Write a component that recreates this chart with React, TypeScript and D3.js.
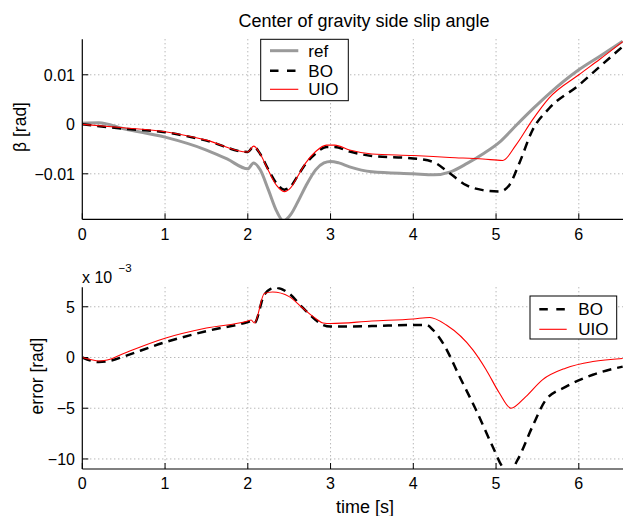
import React from "react";
import * as d3 from "d3";

// ---- Data: top plot (side slip angle, rad) ----
const tRef = [0, 0.2, 0.5, 1, 1.5, 1.75, 2.0, 2.07, 2.15, 2.25, 2.35, 2.43, 2.52, 2.6, 2.7, 2.82, 2.92, 3.0, 3.1, 3.23, 3.5, 4.0, 4.25, 4.45, 4.65, 4.85, 5.05, 5.25, 5.45, 5.65, 6.0, 6.25, 6.53];
const betaRef = [0.0002, 0.0003, -0.0009, -0.0026, -0.0052, -0.007, -0.009, -0.0078, -0.0092, -0.0133, -0.0176, -0.0195, -0.0182, -0.0158, -0.0125, -0.0092, -0.0078, -0.0075, -0.0078, -0.0086, -0.0096, -0.01, -0.0102, -0.0096, -0.0079, -0.0059, -0.0035, -0.0001, 0.0032, 0.0063, 0.011, 0.0137, 0.0168];

const tBO = [0, 0.5, 1, 1.5, 2.0, 2.07, 2.15, 2.25, 2.35, 2.44, 2.52, 2.6, 2.7, 2.82, 2.95, 3.05, 3.23, 3.5, 4.0, 4.24, 4.44, 4.64, 4.84, 5.04, 5.16, 5.28, 5.44, 5.64, 6.0, 6.25, 6.53];
const betaBO = [0, -0.0009, -0.0016, -0.0033, -0.0056, -0.0045, -0.006, -0.0092, -0.012, -0.0132, -0.0125, -0.0105, -0.008, -0.0059, -0.0046, -0.0046, -0.0055, -0.0064, -0.0069, -0.0076, -0.0099, -0.0123, -0.0133, -0.0136, -0.0123, -0.0079, -0.0012, 0.0032, 0.0079, 0.0116, 0.0157];

const tUIO = [0, 0.5, 1, 1.5, 2.0, 2.07, 2.15, 2.25, 2.35, 2.44, 2.52, 2.6, 2.7, 2.82, 2.95, 3.05, 3.23, 3.5, 4.0, 4.44, 4.84, 5.08, 5.24, 5.44, 5.64, 6.0, 6.25, 6.53];
const betaUIO = [0, -0.0007, -0.0015, -0.0032, -0.0056, -0.0044, -0.006, -0.0094, -0.0124, -0.0136, -0.0128, -0.0106, -0.0078, -0.0055, -0.0042, -0.0042, -0.0052, -0.006, -0.0063, -0.0067, -0.007, -0.0073, -0.0042, 0.0009, 0.0053, 0.01, 0.0131, 0.0167];

// ---- Data: bottom plot (error, x 10^-3 rad) ----
const tErrBO = [0, 0.1, 0.2, 0.35, 0.5, 1, 1.5, 2.0, 2.04, 2.08, 2.2, 2.33, 2.5, 2.66, 2.82, 2.91, 3.0, 3.5, 4.0, 4.16, 4.24, 4.36, 4.56, 4.76, 4.96, 5.08, 5.16, 5.26, 5.44, 5.6, 5.84, 6.17, 6.53];
const errBO = [0, -0.3, -0.45, -0.3, 0.1, 1.5, 2.6, 3.5, 3.6, 3.4, 6.2, 6.9, 6.3, 4.95, 3.7, 3.2, 3.05, 3.1, 3.2, 3.2, 2.7, 1.4, -1.9, -5.2, -8.8, -10.8, -11.3, -10.1, -6.8, -4.2, -2.9, -1.7, -0.9];

const tErrUIO = [0, 0.1, 0.2, 0.3, 0.5, 1, 1.5, 2.0, 2.04, 2.08, 2.2, 2.3, 2.5, 2.66, 2.82, 2.91, 3.0, 3.5, 4.0, 4.2, 4.4, 4.72, 4.88, 5.04, 5.18, 5.36, 5.56, 5.84, 6.17, 6.53];
const errUIO = [0, -0.2, -0.35, -0.25, 0.4, 1.9, 2.9, 3.6, 3.7, 3.4, 6.3, 6.45, 6.0, 4.9, 3.85, 3.4, 3.35, 3.6, 3.8, 3.95, 3.2, 0.75, -1.2, -3.5, -5.0, -3.85, -2.2, -1.05, -0.4, -0.1];

const xTicks = [0, 1, 2, 3, 4, 5, 6];
const yTicksTop = [0.01, 0, -0.01];
const yTickLabelsTop = ["0.01", "0", "\u22120.01"];
const yTicksBot = [5, 0, -5, -10];
const yTickLabelsBot = ["5", "0", "\u22125", "\u221210"];

const FONT = "'Liberation Sans', Arial, Helvetica, sans-serif";
const GRAY = "#9a9a9a";

const X0 = 82.3;
const XR = 623;
const xScale = d3.scaleLinear().domain([0, 6.6]).range([X0, X0 + 6.6 * 82.75]);

const yTop = d3.scaleLinear().domain([-0.01919, 0.01717]).range([219.3, 39.3]);
const yBot = d3.scaleLinear().domain([-10.99, 6.92]).range([469, 287.3]);

function pathOf(ts: number[], vs: number[], y: d3.ScaleLinear<number, number>) {
  const pts = ts.map((t, i) => [t, vs[i]] as [number, number]);
  return d3
    .line<[number, number]>()
    .x((d) => xScale(d[0]))
    .y((d) => y(d[1]))
    .curve(d3.curveMonotoneX)(pts) as string;
}

function Axes({ y, ticks, labels, top, bottom, labelY }: any) {
  return (
    <g>
      {/* grid */}
      {ticks.map((v: number, i: number) => (
        <line key={"gy" + i} x1={X0} x2={XR} y1={y(v)} y2={y(v)} stroke={GRAY} strokeWidth={1} strokeDasharray="1,3" />
      ))}
      {xTicks.filter((v) => v > 0).map((v) => (
        <line key={"gx" + v} x1={xScale(v)} x2={xScale(v)} y1={top} y2={bottom} stroke={GRAY} strokeWidth={1} strokeDasharray="1,3" />
      ))}
      {/* ticks */}
      {xTicks.map((v) => (
        <line key={"tx" + v} x1={xScale(v)} x2={xScale(v)} y1={bottom} y2={bottom - 6} stroke="#000" strokeWidth={1} />
      ))}
      {ticks.map((v: number, i: number) => (
        <line key={"ty" + i} x1={X0} x2={X0 + 6} y1={y(v)} y2={y(v)} stroke="#000" strokeWidth={1} />
      ))}
      {/* tick labels */}
      {xTicks.map((v) => (
        <text key={"lx" + v} x={xScale(v)} y={labelY} textAnchor="middle" fontSize={16} fontFamily={FONT} fill="#000">
          {String(v)}
        </text>
      ))}
      {ticks.map((v: number, i: number) => (
        <text key={"ly" + i} x={75} y={y(v)} dy="0.36em" textAnchor="end" fontSize={16} fontFamily={FONT} fill="#000">
          {labels[i]}
        </text>
      ))}
    </g>
  );
}

function AxisLines({ top, bottom }: { top: number; bottom: number }) {
  return (
    <g>
      <line x1={X0} x2={X0} y1={top} y2={bottom} stroke="#000" strokeWidth={1.2} />
      <line x1={X0} x2={XR} y1={bottom} y2={bottom} stroke="#000" strokeWidth={1.2} />
    </g>
  );
}

export default function App() {
  return (
    <svg width={623} height={516} style={{ position: "absolute", left: 0, top: 0, background: "#fff" }}>
      <defs>
        <clipPath id="clipTop">
          <rect x={X0} y={39.3} width={XR - X0} height={219.3 - 39.3} />
        </clipPath>
        <clipPath id="clipBot">
          <rect x={X0} y={287.3} width={XR - X0} height={469 - 287.3} />
        </clipPath>
      </defs>
      <rect x={0} y={0} width={623} height={516} fill="#fff" />

      {/* Title */}
      <text x={364} y={27} textAnchor="middle" fontSize={18} fontFamily={FONT} fill="#000">
        Center of gravity side slip angle
      </text>

      {/* ---- Top plot ---- */}
      <Axes y={yTop} ticks={yTicksTop} labels={yTickLabelsTop} top={39.3} bottom={219.3} labelY={240} />
      <g clipPath="url(#clipTop)" fill="none">
        <path d={pathOf(tRef, betaRef, yTop)} stroke={GRAY} strokeWidth={3} />
        <path d={pathOf(tBO, betaBO, yTop)} stroke="#000" strokeWidth={2.5} strokeDasharray="9,6" />
        <path d={pathOf(tUIO, betaUIO, yTop)} stroke="#ff0000" strokeWidth={1.1} />
      </g>
      <AxisLines top={39.3} bottom={219.3} />
      <text transform="translate(20,127) rotate(-90)" dy="0.36em" textAnchor="middle" fontSize={17.5} fontFamily={FONT} fill="#000">
        β [rad]
      </text>

      {/* Top legend */}
      <g>
        <rect x={260.7} y={39.3} width={87.6} height={61.4} fill="#fff" stroke="#000" strokeWidth={1} />
        <line x1={270} x2={298.3} y1={50.7} y2={50.7} stroke={GRAY} strokeWidth={3} />
        <line x1={270} x2={298.3} y1={70.7} y2={70.7} stroke="#000" strokeWidth={2.5} strokeDasharray="8.5,8.5" />
        <line x1={270} x2={298.3} y1={89.3} y2={89.3} stroke="#ff0000" strokeWidth={1.1} />
        <text x={308.3} y={50.7} dy="0.36em" fontSize={17} fontFamily={FONT} fill="#000">ref</text>
        <text x={308.3} y={70.7} dy="0.36em" fontSize={17} fontFamily={FONT} fill="#000">BO</text>
        <text x={308.3} y={89.3} dy="0.36em" fontSize={17} fontFamily={FONT} fill="#000">UIO</text>
      </g>

      {/* ---- Bottom plot ---- */}
      <Axes y={yBot} ticks={yTicksBot} labels={yTickLabelsBot} top={287.3} bottom={469} labelY={489} />
      <g clipPath="url(#clipBot)" fill="none">
        <path d={pathOf(tErrBO, errBO, yBot)} stroke="#000" strokeWidth={2.5} strokeDasharray="9,6" />
        <path d={pathOf(tErrUIO, errUIO, yBot)} stroke="#ff0000" strokeWidth={1.1} />
      </g>
      <AxisLines top={287.3} bottom={469} />
      <text x={82} y={283} fontSize={16} fontFamily={FONT} fill="#000">x 10</text>
      <text x={118.5} y={272} fontSize={11.5} fontFamily={FONT} fill="#000">−3</text>
      <text transform="translate(37,376) rotate(-90)" dy="0.36em" textAnchor="middle" fontSize={17.5} fontFamily={FONT} fill="#000">
        error [rad]
      </text>
      <text x={365} y={513} textAnchor="middle" fontSize={18} fontFamily={FONT} fill="#000">
        time [s]
      </text>

      {/* Bottom legend */}
      <g>
        <rect x={530} y={296} width={86.7} height={43} fill="#fff" stroke="#000" strokeWidth={1} />
        <line x1={539.3} x2={566.7} y1={309.3} y2={309.3} stroke="#000" strokeWidth={2.5} strokeDasharray="8.5,8.5" />
        <line x1={539.3} x2={566.7} y1={329.3} y2={329.3} stroke="#ff0000" strokeWidth={1.1} />
        <text x={578.3} y={309.3} dy="0.36em" fontSize={17} fontFamily={FONT} fill="#000">BO</text>
        <text x={578.3} y={329.3} dy="0.36em" fontSize={17} fontFamily={FONT} fill="#000">UIO</text>
      </g>
    </svg>
  );
}
